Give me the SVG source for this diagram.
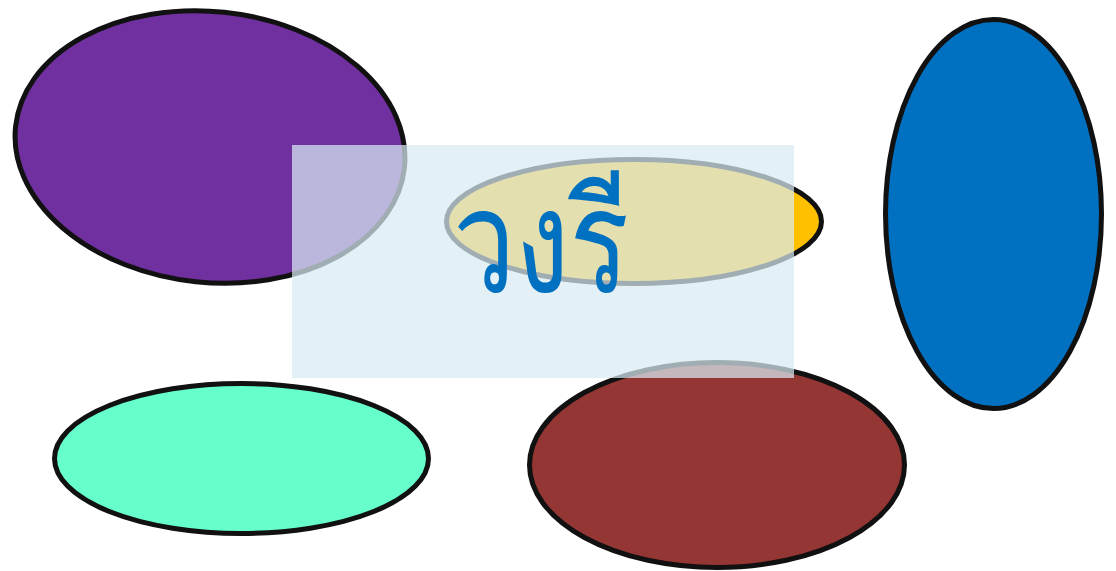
<svg xmlns="http://www.w3.org/2000/svg" width="1116" height="571" viewBox="0 0 1116 571">
<style>
.shape{stroke:#111111;stroke-width:5}
.label{font-family:"Tahoma","Loma","Garuda","Noto Sans Thai Looped","Noto Serif Thai","Noto Sans","Noto Sans Thai",sans-serif;fill:#0070c0}
</style>
<rect width="1116" height="571" fill="#ffffff"/>
<g id="ellipse-purple"><ellipse class="shape" cx="210" cy="147" rx="195.5" ry="135.5" fill="#7030a0" transform="rotate(6 210 147)"/></g>
<g id="ellipse-yellow"><ellipse class="shape" cx="634" cy="221.5" rx="187.5" ry="62" fill="#ffc000"/></g>
<g id="ellipse-blue"><ellipse class="shape" cx="993.5" cy="214" rx="108" ry="194.5" fill="#0070c0"/></g>
<g id="ellipse-green"><ellipse class="shape" cx="241.5" cy="458.5" rx="187" ry="75" fill="#66ffcc"/></g>
<g id="ellipse-brown"><ellipse class="shape" cx="717" cy="465" rx="187.5" ry="102.5" fill="#943634"/></g>
<g id="overlay"><rect x="292" y="145" width="502" height="233" fill="#d8eaf1" fill-opacity="0.72"/></g>
<g id="title"><text class="label" x="453" y="292" font-size="144" textLength="176" lengthAdjust="spacingAndGlyphs">วงรี</text></g>
<g id="connectors"></g>
</svg>
